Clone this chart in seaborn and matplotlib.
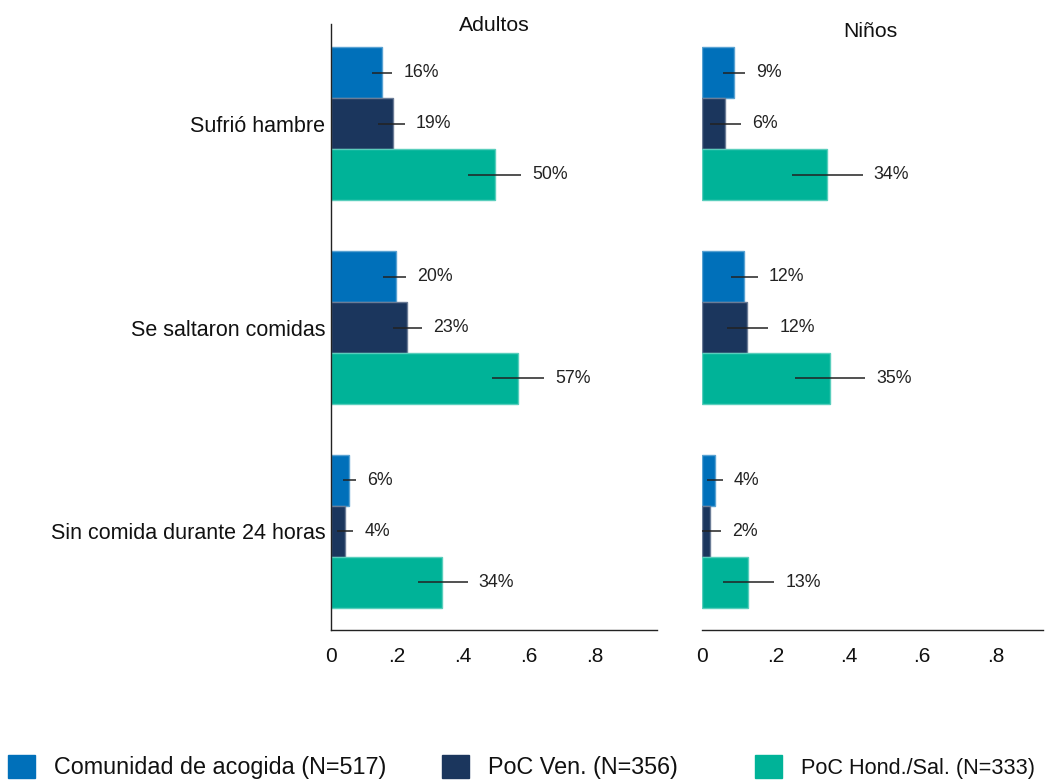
import pandas as pd
import matplotlib
matplotlib.use('Agg')
import matplotlib.pyplot as plt
import matplotlib.colors as mcolors
from matplotlib.patches import Patch
import seaborn as sns

# Data
categories = ['Sufrió hambre', 'Se saltaron comidas', 'Sin comida durante 24 horas']
groups = ['Comunidad de acogida (N=517)', 'PoC Ven. (N=356)', 'PoC Hond./Sal. (N=333)']
colors = ['#0070BA', '#1B365D', '#00B398']

# Adultos: shares per group (rows = groups, cols = categories)
adult_vals = [[0.156, 0.196, 0.056],
              [0.187, 0.231, 0.041],
              [0.496, 0.567, 0.337]]
adult_lo = [[0.123, 0.158, 0.035],
            [0.143, 0.187, 0.019],
            [0.416, 0.487, 0.265]]
adult_hi = [[0.186, 0.227, 0.076],
            [0.224, 0.276, 0.068],
            [0.575, 0.646, 0.414]]

# Niños
child_vals = [[0.086, 0.115, 0.036],
              [0.063, 0.124, 0.022],
              [0.341, 0.348, 0.126]]
child_lo = [[0.056, 0.079, 0.014],
            [0.022, 0.069, -0.003],
            [0.245, 0.254, 0.057]]
child_hi = [[0.117, 0.152, 0.057],
            [0.106, 0.181, 0.052],
            [0.438, 0.445, 0.197]]

xticks = [0, 0.2, 0.4, 0.6, 0.8]
xticklabels = ['0', '.2', '.4', '.6', '.8']

sns.set_style('white')
plt.rcParams['font.family'] = ['Liberation Sans', 'DejaVu Sans']


def to_frame(vals):
    rows = []
    for g, row in zip(groups, vals):
        for c, v in zip(categories, row):
            rows.append({'cat': c, 'group': g, 'val': v})
    return pd.DataFrame(rows)


def lighten(c, f=0.35):
    r, g, b = mcolors.to_rgb(c)
    return (r + (1 - r) * f, g + (1 - g) * f, b + (1 - b) * f)


def panel(ax, vals, lo, hi, xmax, show_y):
    df = to_frame(vals)
    sns.barplot(data=df, y='cat', x='val', hue='group', hue_order=groups,
                order=categories, palette=colors, orient='h', width=0.75,
                saturation=1, errorbar=None, legend=False, ax=ax)
    for gi, cont in enumerate(ax.containers):
        for ci, bar in enumerate(cont):
            bar.set_edgecolor(lighten(colors[gi]))
            bar.set_linewidth(1)
            yc = bar.get_y() + bar.get_height() / 2
            ax.hlines(yc, lo[gi][ci], hi[gi][ci], color='#222222', lw=1.1, zorder=5)
            ax.annotate(f'{int(vals[gi][ci] * 100 + 0.5)}%', (hi[gi][ci], yc),
                        xytext=(8, 0), textcoords='offset points',
                        va='center', ha='left', fontsize=12.8, color='#222222')
    ax.set_xlim(0, xmax)
    ax.set_ylim(2.485, -0.49)
    ax.set_xticks(xticks)
    ax.set_xticklabels(xticklabels)
    ax.tick_params(axis='x', length=0, pad=12.5, labelsize=15, colors='#111111')
    ax.tick_params(axis='y', length=0, pad=4, labelsize=15.5, colors='#111111')
    ax.set_xlabel('')
    ax.set_ylabel('')
    for s in ['top', 'right']:
        ax.spines[s].set_visible(False)
    ax.spines['bottom'].set_color('#222222')
    ax.spines['bottom'].set_linewidth(1)
    if show_y:
        ax.spines['left'].set_color('#222222')
        ax.spines['left'].set_linewidth(1)
    else:
        ax.spines['left'].set_visible(False)
        ax.set_yticklabels([])


fig = plt.figure(figsize=(10.45, 7.8), dpi=100)
W, H = 1045, 780
ax1 = fig.add_axes([331 / W, 1 - 630 / H, (657 - 331) / W, (630 - 24) / H])
ax2 = fig.add_axes([702 / W, 1 - 630 / H, (1043 - 702) / W, (630 - 24) / H])

panel(ax1, adult_vals, adult_lo, adult_hi, 0.988, True)
panel(ax2, child_vals, child_lo, child_hi, 0.93, False)

fig.text(494 / W, 1 - 31 / H, 'Adultos', ha='center', va='baseline', fontsize=15.3, color='#111111')
fig.text(870 / W, 1 - 37 / H, 'Niños', ha='center', va='baseline', fontsize=15.3, color='#111111')

# legend entries placed one by one
legend_x = [8, 442, 755]
legend_fs = [16.8, 16.8, 15.6]
for c, g, lx, fs in zip(colors, groups, legend_x, legend_fs):
    fig.legend([Patch(facecolor=c, edgecolor=c)], [g], loc='center left',
               bbox_to_anchor=(lx / W, 1 - 767 / H), frameon=False, fontsize=fs,
               handlelength=27 / (fs * 100 / 72), handleheight=27 / (fs * 100 / 72),
               handletextpad=19 / (fs * 100 / 72),
               borderpad=0, borderaxespad=0, labelcolor='#111111')

fig.savefig('out.png', dpi=100)
